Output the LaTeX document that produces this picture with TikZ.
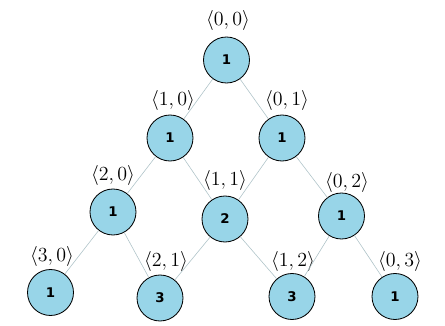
\documentclass[tikz,border=0pt]{standalone}
\usepackage{fontspec}
\newfontfamily\numfont{DejaVu Sans}
\definecolor{nodeblue}{RGB}{152,213,232}
\definecolor{edgegray}{RGB}{175,195,200}
\begin{document}
\begin{tikzpicture}[x=0.6pt,y=-0.6pt,
  vtx/.style={circle,draw=black,line width=0.5pt,fill=nodeblue,minimum size=27.6pt,inner sep=0pt,font=\numfont\bfseries\footnotesize},
  lbl/.style={inner sep=0pt,font=\fontsize{11.5}{14}\selectfont},
  edge/.style={draw=edgegray,line width=0.35pt}]
\useasboundingbox (0,0) rectangle (445,326);
\node[vtx] (n00) at (226.5,60) {1};
\node[vtx] (n10) at (170,138) {1};
\node[vtx] (n01) at (282,138) {1};
\node[vtx] (n20) at (113,212) {1};
\node[vtx] (n11) at (225,219) {2};
\node[vtx] (n02) at (341.5,216) {1};
\node[vtx] (n30) at (50.5,292.5) {1};
\node[vtx] (n21) at (160,298) {3};
\node[vtx] (n12) at (292,296.5) {3};
\node[vtx] (n03) at (395,296.5) {1};
\node[lbl] (l00) at (228,21) {$\langle 0,0\rangle$};
\node[lbl] (l10) at (173,101) {$\langle 1,0\rangle$};
\node[lbl] (l01) at (287,101) {$\langle 0,1\rangle$};
\node[lbl] (l20) at (113,176) {$\langle 2,0\rangle$};
\node[lbl] (l11) at (225,181) {$\langle 1,1\rangle$};
\node[lbl] (l02) at (347,183) {$\langle 0,2\rangle$};
\node[lbl] (l30) at (52,257) {$\langle 3,0\rangle$};
\node[lbl] (l21) at (166,262) {$\langle 2,1\rangle$};
\node[lbl] (l12) at (293,262) {$\langle 1,2\rangle$};
\node[lbl] (l03) at (400,262) {$\langle 0,3\rangle$};
\draw[edge] (n00) -- (n10);
\draw[edge] (n00) -- (n01);
\draw[edge] (n10) -- (n20);
\draw[edge] (n10) -- (n11);
\draw[edge] (n01) -- (n11);
\draw[edge] (n01) -- (n02);
\draw[edge] (n20) -- (n30);
\draw[edge] (n20) -- (n21);
\draw[edge] (n11) -- (n21);
\draw[edge] (n11) -- (n12);
\draw[edge] (n02) -- (n12);
\draw[edge] (n02) -- (n03);
\end{tikzpicture}
\end{document}
